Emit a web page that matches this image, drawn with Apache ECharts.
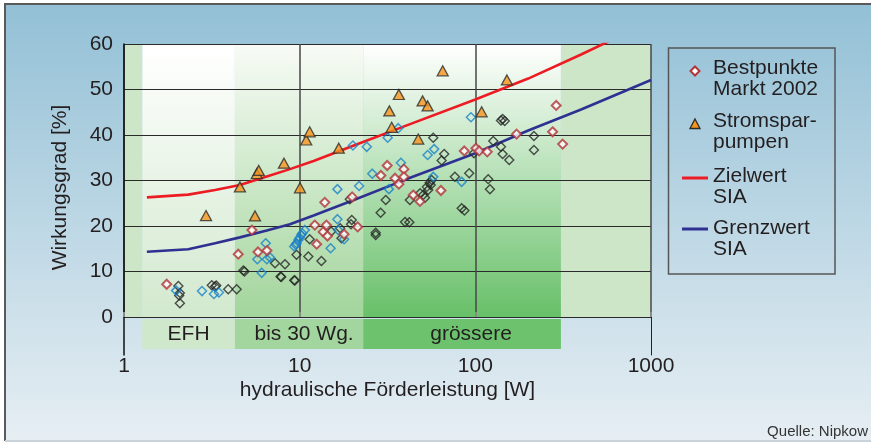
<!DOCTYPE html>
<html><head><meta charset="utf-8">
<script src="https://cdn.jsdelivr.net/npm/echarts@6/dist/echarts.min.js"></script>
<style>html,body{margin:0;padding:0;background:#fff;}#c{width:871px;height:443px;}</style>
</head><body><div id="c"></div>
<script>
const FONT = '"Liberation Sans", Arial, Helvetica, sans-serif';
const xTicks = [1, 10, 100, 1000];
const yTicks = [0, 10, 20, 30, 40, 50, 60];

const bestpunkte = [[1.75,7.2],[4.47,13.8],[5.35,19.1],[5.79,14.3],[6.51,14.6],[12.2,20.2],[12.5,16.0],[13.6,18.7],[13.9,25.2],[14.2,20.2],[14.4,17.8],[17.9,18.2],[19.9,26.4],[21.4,19.8],[29.0,31.1],[31.5,33.3],[34.9,30.5],[36.7,29.2],[39.2,32.5],[39.2,30.8],[44.3,26.8],[48.4,25.4],[63.7,27.8],[86.5,36.5],[100.8,37.1],[105.2,36.5],[116.9,36.3],[171.8,40.2],[275.4,40.7],[288.7,46.5],[314,38.0]];

const stromspar = [[2.93,22.3],[4.57,28.6],[5.57,22.2],[5.7,31.5],[5.85,32.2],[8.14,33.8],[10.04,28.4],[10.9,38.9],[11.4,40.7],[16.7,37.1],[32.4,45.3],[33.4,41.7],[36.7,48.9],[47.3,39.1],[50.1,47.5],[53.5,46.4],[65.2,54.1],[108.6,45.1],[151.3,52.1]];

const blueOther = [[1.98,5.8],[2.78,5.7],[3.25,5.05],[3.47,5.4],[5.74,12.7],[6.08,9.7],[6.41,16.2],[6.5,12.7],[6.78,13.1],[9.31,15.5],[9.5,15.9],[9.6,16.2],[9.82,16.9],[10.0,17.4],[10.2,18.0],[10.35,18.4],[10.7,19.1],[15.0,15.1],[16.4,21.5],[16.4,28.1],[16.6,19.1],[17.9,17.1],[20.1,37.7],[21.8,28.8],[24.1,37.4],[25.9,31.5],[31.7,39.4],[32.2,28.1],[36.4,41.5],[37.7,33.9],[53.5,35.6],[57.6,30.8],[58.3,36.9],[83.6,29.7],[94.4,43.9]];

const blackOther = [[2.04,6.8],[2.08,5.3],[2.06,4.7],[2.08,3.0],[3.16,7.0],[3.30,6.7],[3.35,6.9],[3.92,6.1],[4.38,6.1],[4.78,10.2],[4.85,10.0],[7.24,11.8],[7.79,8.9],[7.85,8.8],[8.25,11.6],[9.31,8.1],[9.4,8.0],[9.6,13.7],[11.2,13.3],[11.4,17.1],[13.3,12.3],[15.1,18.8],[17.0,19.5],[17.3,17.3],[19.3,25.9],[19.6,20.4],[19.8,21.3],[27.1,18.0],[27.1,18.5],[28.9,22.9],[30.9,25.7],[39.8,20.9],[42.1,20.8],[42.4,25.7],[48.5,27.2],[50.5,26.8],[51.7,26.2],[53.0,28.6],[53.9,27.9],[55.0,29.5],[55.7,29.0],[56.4,30.1],[57.6,39.4],[64.3,34.4],[66.5,35.8],[76.5,30.8],[83.6,23.9],[86.7,23.4],[92.3,31.6],[98.2,36.0],[118.4,30.3],[121.1,28.1],[126.5,38.7],[139.9,37.4],[140,43.2],[143,43.5],[147,43.1],[143,35.8],[156,34.5],[215.6,39.8],[215.6,36.7]];

const lineX     = [1.35, 2.32, 3.3, 4.57, 6.5, 8.8, 12, 20, 40, 100, 200, 400, 1000];
const zielwert  = [26.3, 26.9, 27.9, 29.0, 30.9, 32.5, 34.3, 37.6, 42.0, 47.8, 52.4, 57.7, 65.0];
const grenzwert = [14.35, 14.9, 16.2, 17.5, 19.0, 20.4, 22.3, 25.6, 30.2, 36.0, 41.0, 45.6, 52.1];

const bandNames = ['EFH', 'bis 30 Wg.', 'grössere'];
const bandEdges = [1.27, 4.28, 23, 307];

function grad(c0, c1) {
  return { type: 'linear', x: 0, y: 0, x2: 0, y2: 1, colorStops: [{ offset: 0, color: c0 }, { offset: 1, color: c1 }] };
}
const upperColors = [grad('#ffffff', '#d2e9ce'), grad('#f8fbf6', '#a2d59c'), grad('#ffffff', '#68c069')];
const lowerColors = ['#cfe8cb', '#a3d69e', '#6cc26d'];
const labelOffsets = [[0, 0], [5, 0], [9, 0]];

const upperAreas = [
  [{ xAxis: 1, yAxis: 0, itemStyle: { color: '#cde6c8' } }, { xAxis: bandEdges[0], yAxis: 60 }],
  [{ xAxis: bandEdges[3], yAxis: 0, itemStyle: { color: '#cde6c8' } }, { xAxis: 1000, yAxis: 60 }]
];
bandNames.forEach((n, i) => {
  upperAreas.push([{ xAxis: bandEdges[i], yAxis: 0, itemStyle: { color: upperColors[i] } }, { xAxis: bandEdges[i + 1], yAxis: 60 }]);
});
const lowerAreas = bandNames.map((n, i) => [
  { name: n, xAxis: bandEdges[i], yAxis: -0.45, itemStyle: { color: lowerColors[i] },
    label: { offset: labelOffsets[i] } },
  { xAxis: bandEdges[i + 1], yAxis: -7.05 }
]);

const chart = echarts.init(document.getElementById('c'), null, { renderer: 'canvas' });
const txt = '#231f20';
const fmt = v => String(Math.round(v));

chart.setOption({
  animation: false,
  textStyle: { fontFamily: FONT },
  graphic: [
    { type: 'rect', z: -100, shape: { x: 5, y: 4, width: 880, height: 436 },
      style: { fill: grad('#93c0d6', '#e6eef3'), stroke: null } },
    { type: 'line', z: -99, shape: { x1: 4, y1: 4, x2: 880, y2: 4 }, style: { stroke: '#5a5a5a', lineWidth: 2 } },
    { type: 'line', z: -99, shape: { x1: 5, y1: 3, x2: 5, y2: 441 }, style: { stroke: '#5a5a5a', lineWidth: 2 } },
    { type: 'line', z: -99, shape: { x1: 5, y1: 441, x2: 880, y2: 441 }, style: { stroke: '#c9d2d8', lineWidth: 2 } },
    // legend
    { type: 'rect', z: 10, shape: { x: 668.5, y: 48, width: 166.5, height: 226 },
      style: { fill: null, stroke: '#555', lineWidth: 1.5 } },
    { type: 'polygon', z: 10, shape: { points: [[695, 66.5], [699.5, 71], [695, 75.5], [690.5, 71]] },
      style: { fill: '#fff', stroke: '#b2333a', lineWidth: 2 } },
    { type: 'polygon', z: 10, shape: { points: [[695, 119], [700, 128.5], [690, 128.5]] },
      style: { fill: '#f7941d', stroke: '#2a2a2a', lineWidth: 1.3 } },
    { type: 'line', z: 10, shape: { x1: 682, y1: 178, x2: 708, y2: 178 }, style: { stroke: '#ed1c24', lineWidth: 3 } },
    { type: 'line', z: 10, shape: { x1: 682, y1: 229, x2: 708, y2: 229 }, style: { stroke: '#2e3192', lineWidth: 3 } },
    { type: 'text', z: 10, x: 713, y: 78.5, style: { text: 'Bestpunkte\nMarkt 2002', font: '21px ' + FONT, fill: txt, lineHeight: 21, verticalAlign: 'middle' } },
    { type: 'text', z: 10, x: 713, y: 132, style: { text: 'Stromspar-\npumpen', font: '21px ' + FONT, fill: txt, lineHeight: 21, verticalAlign: 'middle' } },
    { type: 'text', z: 10, x: 713, y: 187, style: { text: 'Zielwert\nSIA', font: '21px ' + FONT, fill: txt, lineHeight: 21, verticalAlign: 'middle' } },
    { type: 'text', z: 10, x: 713, y: 238.7, style: { text: 'Grenzwert\nSIA', font: '21px ' + FONT, fill: txt, lineHeight: 21, verticalAlign: 'middle' } },
    { type: 'text', z: 10, x: 868, y: 432, style: { text: 'Quelle: Nipkow', font: '15px ' + FONT, fill: '#333', align: 'right', verticalAlign: 'middle' } }
  ],
  grid: [
    { left: 124, right: 220, top: 44, height: 273, containLabel: false },
    { left: 124, right: 220, top: 317, height: 38, containLabel: false }
  ],
  xAxis: [
    { type: 'log', logBase: 10, gridIndex: 0, min: 1, max: 1000,
      axisLine: { show: false }, axisTick: { show: false }, axisLabel: { show: false },
      splitLine: { show: true, lineStyle: { color: '#474747', width: 1.5 } } },
    { type: 'log', logBase: 10, gridIndex: 1, min: 1, max: 1000,
      axisLine: { show: false },
      axisTick: { show: true, inside: true, length: 5, lineStyle: { color: '#8a8a8a', width: 2 } },
      axisLabel: { show: true, fontSize: 21, color: txt, margin: 1, formatter: fmt, fontFamily: FONT },
      splitLine: { show: false },
      name: 'hydraulische Förderleistung [W]', nameLocation: 'middle', nameGap: 25,
      nameTextStyle: { fontSize: 21, color: txt, fontFamily: FONT } }
  ],
  yAxis: [
    { type: 'value', gridIndex: 0, min: yTicks[0], max: yTicks[yTicks.length - 1], interval: 10,
      axisLine: { show: true, lineStyle: { color: '#111', width: 1.5 } },
      axisTick: { show: false },
      axisLabel: { fontSize: 21, color: txt, margin: 11, fontFamily: FONT },
      splitLine: { show: true, lineStyle: { color: '#2a2a2a', width: 1.2 } },
      name: 'Wirkungsgrad [%]', nameLocation: 'middle', nameGap: 53,
      nameTextStyle: { fontSize: 21, color: txt, fontFamily: FONT, padding: [0, 14, 0, 0] } },
    { type: 'value', gridIndex: 1, min: -8.4, max: 0,
      axisLine: { show: true, onZero: false, lineStyle: { color: '#111', width: 1.5 } },
      axisTick: { show: false }, axisLabel: { show: false }, splitLine: { show: false } },
    { type: 'value', gridIndex: 1, min: -8.4, max: 0, position: 'right',
      axisLine: { show: true, onZero: false, lineStyle: { color: '#222', width: 1 } },
      axisTick: { show: false }, axisLabel: { show: false }, splitLine: { show: false } }
  ],
  series: [
    { type: 'scatter', name: 'bandsUpper', xAxisIndex: 0, yAxisIndex: 0, z: -1, data: [], silent: true,
      markArea: { z: -1, silent: true, label: { show: false }, data: upperAreas } },
    { type: 'scatter', name: 'bandsLower', xAxisIndex: 1, yAxisIndex: 1, z: -1, data: [], silent: true,
      markArea: { z: -1, silent: true,
        label: { show: true, position: 'inside', fontSize: 21, color: txt, fontFamily: FONT },
        data: lowerAreas } },
    { type: 'line', name: 'Zielwert SIA', xAxisIndex: 0, yAxisIndex: 0, symbol: 'none', z: 2,
      data: lineX.map((x, i) => [x, zielwert[i]]), lineStyle: { color: '#ed1c24', width: 2.6 } },
    { type: 'line', name: 'Grenzwert SIA', xAxisIndex: 0, yAxisIndex: 0, symbol: 'none', z: 2,
      data: lineX.map((x, i) => [x, grenzwert[i]]), lineStyle: { color: '#2e3192', width: 2.6 } },
    { type: 'scatter', name: 'andere', xAxisIndex: 0, yAxisIndex: 0, symbol: 'diamond', symbolSize: 9, z: 3,
      data: blackOther, itemStyle: { color: 'rgba(0,0,0,0)', borderColor: '#262626', borderWidth: 1.4 } },
    { type: 'scatter', name: 'andere2', xAxisIndex: 0, yAxisIndex: 0, symbol: 'diamond', symbolSize: 9, z: 4,
      data: blueOther, itemStyle: { color: 'rgba(0,0,0,0)', borderColor: '#1a82c8', borderWidth: 1.5 } },
    { type: 'scatter', name: 'Bestpunkte Markt 2002', xAxisIndex: 0, yAxisIndex: 0, symbol: 'diamond', symbolSize: 9, z: 5,
      data: bestpunkte, itemStyle: { color: '#ffffff', borderColor: '#b2333a', borderWidth: 2 } },
    { type: 'scatter', name: 'Stromsparpumpen', xAxisIndex: 0, yAxisIndex: 0, symbol: 'triangle', symbolSize: [11, 10], z: 6,
      data: stromspar, itemStyle: { color: '#f7941d', borderColor: '#2a2a2a', borderWidth: 1.3 } }
  ]
});
</script></body></html>
